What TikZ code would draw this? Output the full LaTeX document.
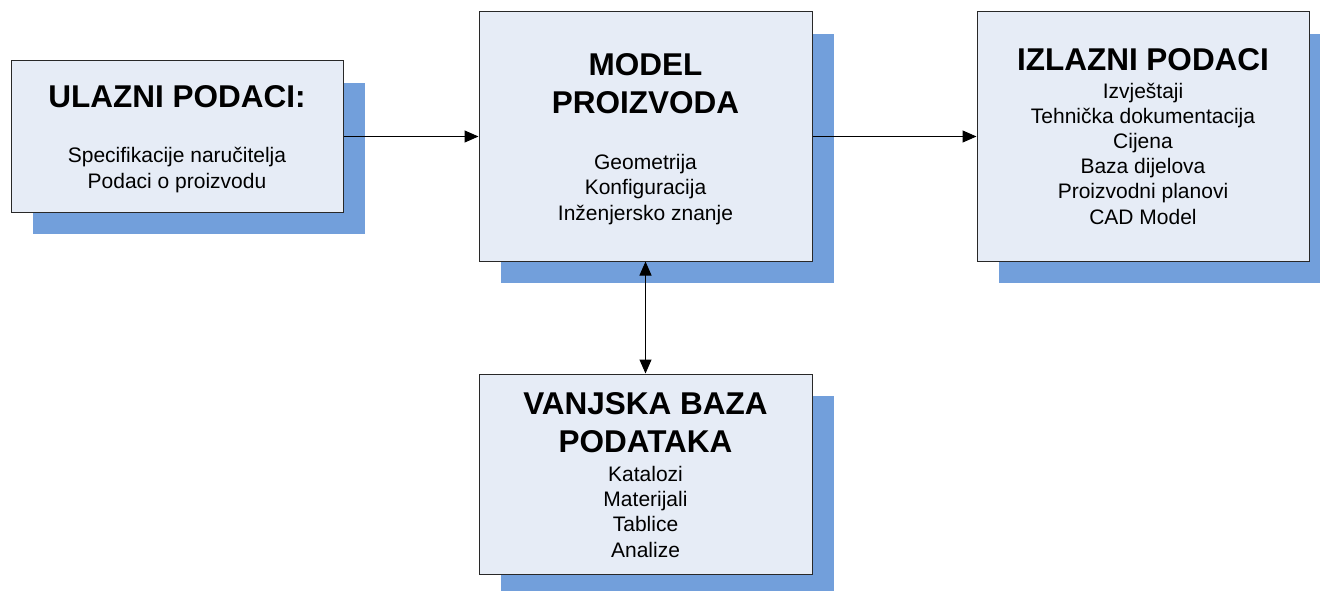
\documentclass[tikz,border=0pt]{standalone}
\usepackage{fontspec}
\setmainfont{Liberation Sans}
\usetikzlibrary{arrows.meta,shadows}
\definecolor{blokfill}{RGB}{230,236,246}
\definecolor{sjenaplava}{RGB}{114,159,219}
\definecolor{rubsiva}{RGB}{40,40,40}
\tikzset{
  blok/.style={draw=rubsiva,line width=1pt,fill=blokfill,inner sep=0pt,
    drop shadow={shadow xshift=22pt,shadow yshift=-22pt,opacity=1,fill=sjenaplava}},
  naslov/.style={font=\fontsize{31.5}{38}\selectfont\bfseries,align=center,inner sep=0pt,anchor=base},
  tekst/.style={font=\fontsize{21}{25.2}\selectfont,align=center,inner sep=0pt,anchor=base},
  strelica/.style={line width=1pt,-{Triangle[length=14pt,width=12pt]}}
}
\begin{document}
\begin{tikzpicture}[x=1pt,y=-1pt]
      \clip (0,0) rectangle (1320,591);
      \node[blok,minimum width=332pt,minimum height=151pt] (ulaz) at (177,136.5) {};
      \node[blok,minimum width=333pt,minimum height=249pt] (model) at (645.5,136.5) {};
      \node[blok,minimum width=332pt,minimum height=249pt] (izlaz) at (1143,136.5) {};
      \node[blok,minimum width=333pt,minimum height=200pt] (baza) at (645.5,474) {};
      \node[naslov] (ulazN) at (177,108) {ULAZNI PODACI:};
      \node[tekst] (ulazT) at (177,188) {Specifikacije naručitelja\\Podaci o proizvodu};
      \node[naslov] (modelN) at (645.5,114) {MODEL\\PROIZVODA};
      \node[tekst] (modelT) at (645.5,220) {Geometrija\\Konfiguracija\\Inženjersko znanje};
      \node[naslov] (izlazN) at (1143,71) {IZLAZNI PODACI};
      \node[tekst] (izlazT) at (1143,224) {Izvještaji\\Tehnička dokumentacija\\Cijena\\Baza dijelova\\Proizvodni planovi\\CAD Model};
      \node[naslov] (bazaN) at (645.5,452) {VANJSKA BAZA\\PODATAKA};
      \node[tekst] (bazaT) at (645.5,557) {Katalozi\\Materijali\\Tablice\\Analize};
      \begin{scope}[strelica]
        \draw (ulaz) to (model);
        \draw (model) to (izlaz);
        \draw[{Triangle[length=14pt,width=12pt]}-{Triangle[length=14pt,width=12pt]}] (baza) to (model);
      \end{scope}
    \end{tikzpicture}
\end{document}
